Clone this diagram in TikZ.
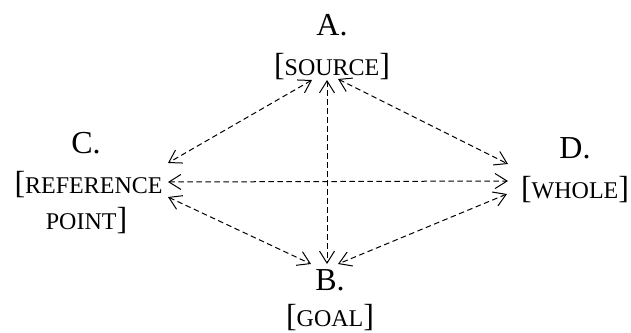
\documentclass[tikz,border=0pt]{standalone}
\usepackage{fontspec}
\setmainfont{Liberation Serif}
\usetikzlibrary{arrows.meta}

% label sizes: full-size heading letter and brackets, small capitals inside
\newcommand{\bigtxt}{\fontsize{32}{37}\selectfont}
\newcommand{\sctxt}[1]{{\fontsize{24}{28}\selectfont #1}}

\tikzset{
  lbl/.style={inner sep=0pt, anchor=base, font=\bigtxt},
  barb/.tip={Straight Barb[length=12pt,width=15pt,line width=1pt]},
  link/.style={line width=1pt, dash pattern=on 5.5pt off 3.5pt, barb-barb},
}

\begin{document}
\begin{tikzpicture}[x=1pt,y=-1pt]
\useasboundingbox (0,0) rectangle (631,332);

% A: source
\node[lbl] (A)    at (332,35)  {A.};
\node[lbl] (Asrc) at (332,75)  {[\sctxt{SOURCE}]};
% C: reference point
\node[lbl] (C)    at (86,153)  {C.};
\node[lbl] (Cref) at (88.5,193) {[\sctxt{REFERENCE}};
\node[lbl] (Cpt)  at (86.5,229) {\sctxt{POINT}]};
% D: whole
\node[lbl] (D)    at (575,158) {D.};
\node[lbl] (Dwh)  at (575,198) {[\sctxt{WHOLE}]};
% B: goal
\node[lbl] (B)    at (330,290) {B.};
\node[lbl] (Bgl)  at (330,326) {[\sctxt{GOAL}]};

% connector ends around each label
\coordinate (ac) at (312,80);
\coordinate (ab) at (327,80);
\coordinate (ad) at (338,79);
\coordinate (ca) at (168,163);
\coordinate (cd) at (168,182);
\coordinate (cb) at (168,197);
\coordinate (da) at (508,164);
\coordinate (dc) at (508,181);
\coordinate (db) at (507,194);
\coordinate (bc) at (311,264);
\coordinate (ba) at (327,264);
\coordinate (bd) at (338,264);

% two-way relations
\draw[link] (ac) -- (ca);
\draw[link] (ab) -- (ba);
\draw[link] (ad) -- (da);
\draw[link] (cd) -- (dc);
\draw[link] (cb) -- (bc);
\draw[link] (db) -- (bd);
\end{tikzpicture}
\end{document}
